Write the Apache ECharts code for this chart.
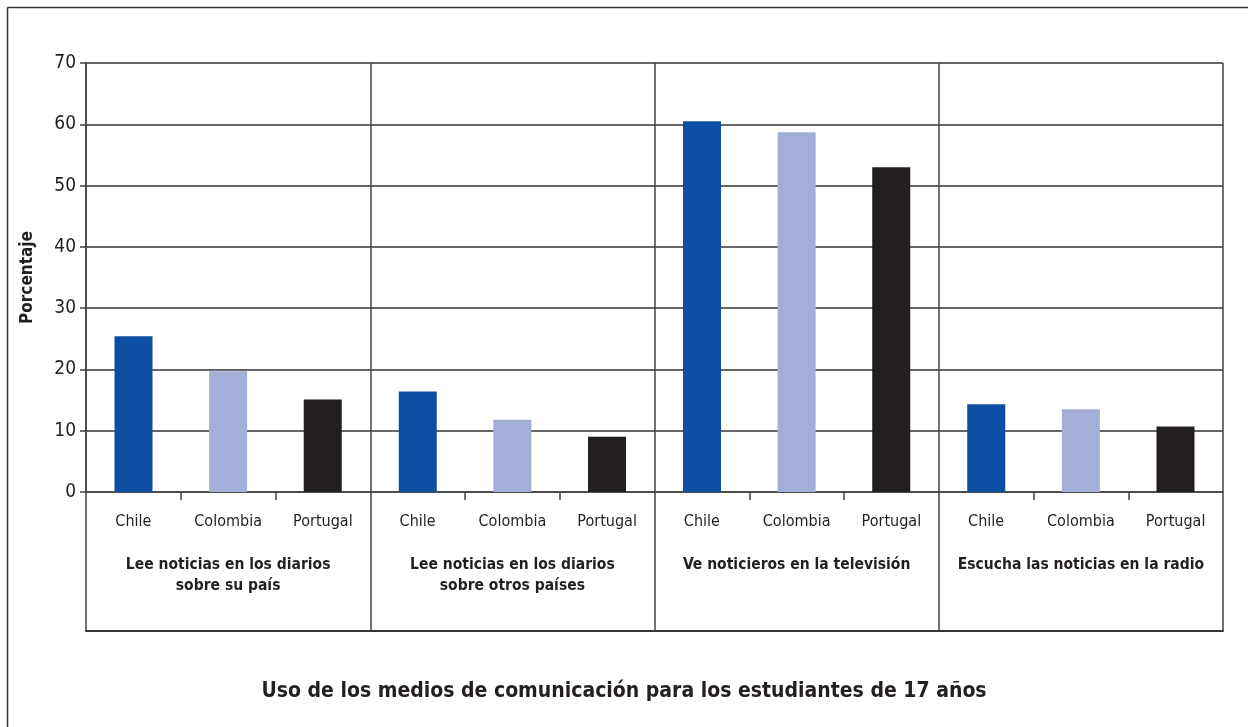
<!DOCTYPE html>
<html>
<head>
<meta charset="utf-8">
<script src="https://cdn.jsdelivr.net/npm/echarts@6/dist/echarts.min.js"></script>
<style>
html,body{margin:0;padding:0;background:#fff;}
#chart{width:1248px;height:727px;}
</style>
</head>
<body>
<div id="chart"></div>
<script>
const groups = [
  "Lee noticias en los diarios\nsobre su país",
  "Lee noticias en los diarios\nsobre otros países",
  "Ve noticieros en la televisión",
  "Escucha las noticias en la radio"
];
const countries = ["Chile", "Colombia", "Portugal"];
const chile = [25.4, 16.4, 60.5, 14.3];
const colombia = [19.7, 11.8, 58.7, 13.5];
const portugal = [15.1, 9.0, 53.0, 10.7];
const yTicks = [0, 10, 20, 30, 40, 50, 60, 70];
const titleText = "Uso de los medios de comunicación para los estudiantes de 17 años";
const yName = "Porcentaje";

const FONT = "'Liberation Sans Narrow', 'DejaVu Sans Condensed', 'Roboto Condensed', sans-serif";
const TXT = '#231F20';
const colors = ['#0C4FA2', '#A5AED6', '#231F20'];
const seriesValues = [chile, colombia, portugal];

const countryLabels = [];
groups.forEach(() => countries.forEach(c => countryLabels.push(c)));

const chart = echarts.init(document.getElementById('chart'), null, {renderer: 'canvas'});
chart.setOption({
  animation: false,
  backgroundColor: '#fff',
  textStyle: {fontFamily: FONT, color: TXT},
  title: {
    text: titleText,
    left: 'center',
    top: 676,
    textStyle: {fontFamily: FONT, fontSize: 21, fontWeight: 'bold', color: TXT}
  },
  graphic: [
    {type: 'line', shape: {x1: 7.5, y1: 7.5, x2: 1248, y2: 7.5}, style: {stroke: '#333', lineWidth: 1.5}},
    {type: 'line', shape: {x1: 7.5, y1: 7.5, x2: 7.5, y2: 727}, style: {stroke: '#333', lineWidth: 1.5}}
  ],
  grid: {left: 86, right: 25, top: 63, bottom: 235, containLabel: false},
  xAxis: [
    {
      type: 'category',
      data: groups,
      position: 'bottom',
      axisLine: {show: true, lineStyle: {color: '#444', width: 1.5}},
      axisTick: {show: true, length: 139, lineStyle: {color: '#444', width: 1.5}},
      splitLine: {show: true, lineStyle: {color: '#444', width: 1.5}},
      axisLabel: {margin: 62, fontFamily: FONT, fontSize: 15.5, fontWeight: 'bold', lineHeight: 21, color: TXT, interval: 0}
    },
    {
      type: 'category',
      data: countryLabels,
      position: 'bottom',
      axisLine: {show: false},
      axisTick: {show: true, length: 8, interval: 0, lineStyle: {color: '#444', width: 1.5}},
      axisLabel: {margin: 22, fontFamily: FONT, fontSize: 16, color: TXT, interval: 0}
    },
    {
      type: 'category',
      data: groups,
      position: 'bottom',
      offset: 139,
      axisLine: {show: true, lineStyle: {color: '#333', width: 2}},
      axisTick: {show: false},
      axisLabel: {show: false}
    }
  ],
  yAxis: {
    type: 'value',
    min: yTicks[0],
    max: yTicks[yTicks.length - 1],
    interval: 10,
    name: yName,
    nameLocation: 'middle',
    nameGap: 50,
    nameRotate: 90,
    nameTextStyle: {fontFamily: FONT, fontSize: 17, fontWeight: 'bold', color: TXT},
    axisLine: {show: true, lineStyle: {color: '#444', width: 1.5}},
    axisTick: {show: true, length: 6, lineStyle: {color: '#444', width: 1.5}},
    splitLine: {show: true, lineStyle: {color: '#333', width: 1.5}},
    axisLabel: {fontFamily: FONT, fontSize: 19, color: TXT, margin: 10}
  },
  series: countries.map((c, i) => ({
    name: c,
    type: 'bar',
    xAxisIndex: 0,
    data: seriesValues[i],
    barWidth: 38,
    barGap: '149%',
    itemStyle: {color: colors[i]}
  }))
});
</script>
</body>
</html>
